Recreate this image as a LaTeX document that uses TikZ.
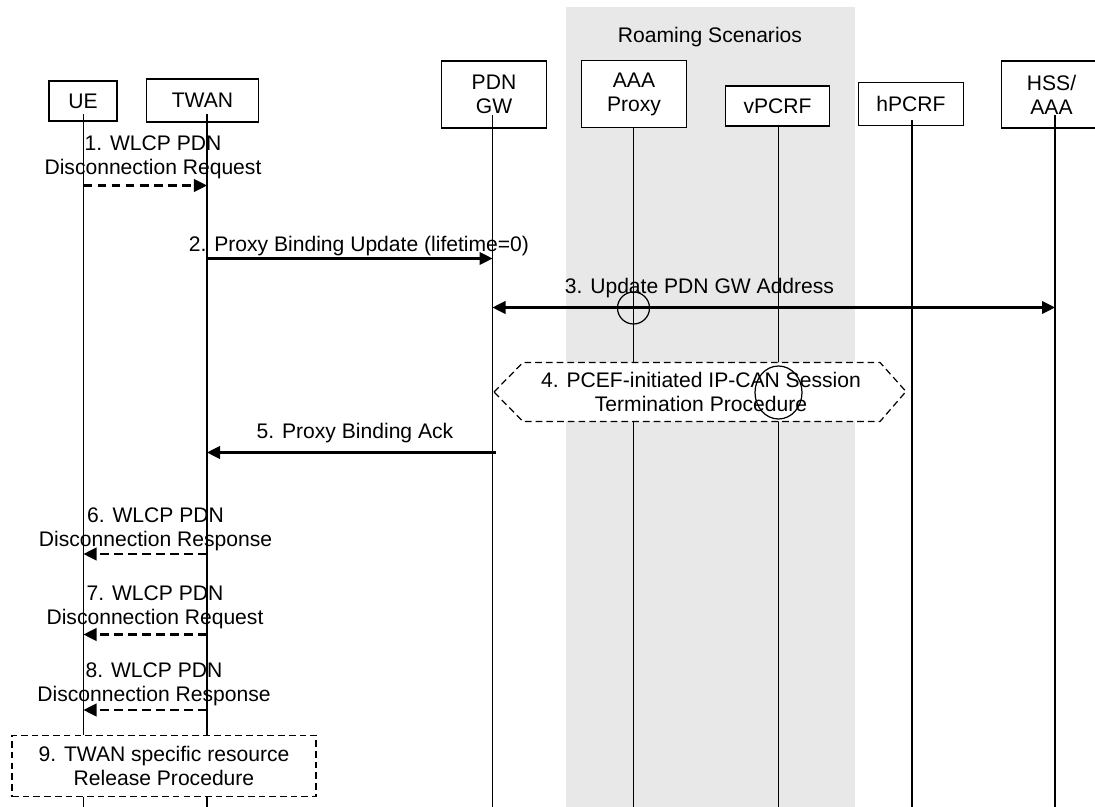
\documentclass[tikz,border=0pt]{standalone}
\usepackage{fontspec}
\setmainfont{Liberation Sans}
\usetikzlibrary{arrows.meta}
\definecolor{roam-gray}{HTML}{E8E8E8}

\begin{document}
\begin{tikzpicture}[every node/.style={font=\fontsize{12}{13.66}\selectfont, align=center},
    entity/.style={draw, fill=white, line width=0.7pt, inner sep=0pt},
    life/.style={line width=0.7pt},
    msg/.style={line width=1.2pt, -{Triangle[length=7.4pt,width=7.2pt]}},
    wlcp/.style={msg, dash pattern=on 5pt off 3pt},
    proc/.style={draw, fill=white, line width=0.7pt, dash pattern=on 3.8pt off 2.3pt}]
  \useasboundingbox (0,0) rectangle (21.9,-16.14);
  \clip (0,0) rectangle (21.9,-16.14);
  \fill[roam-gray] (11.32,-0.15) rectangle (17.1,-16.14);
  \node (roam) at (14.2,-0.74) {Roaming Scenarios};

  \node[entity, minimum width=1.36cm, minimum height=0.80cm] (ue) at (1.66,-2.02) {UE};
  \node[entity, minimum width=2.24cm, minimum height=0.86cm] (twan) at (4.05,-2.01) {TWAN};
  \node[entity, minimum width=2.10cm, minimum height=1.34cm] (pdngw) at (9.88,-1.89) {PDN\\GW};
  \node[entity, minimum width=2.10cm, minimum height=1.33cm] (aaa) at (12.68,-1.88) {AAA\\Proxy};
  \node[entity, minimum width=2.09cm, minimum height=0.80cm] (vpcrf) at (15.55,-2.12) {vPCRF};
  \node[entity, minimum width=2.10cm, minimum height=0.87cm] (hpcrf) at (18.22,-2.08) {hPCRF};
  \node[entity, minimum width=2.00cm, minimum height=1.34cm] (hss) at (21.03,-1.89) {HSS/\\AAA};

  \foreach \n/\x/\y in {ue/1.67/-2.28, twan/4.14/-2.28, pdngw/9.85/-2.30, aaa/12.67/-2.55,
      vpcrf/15.57/-2.52, hpcrf/18.24/-2.40, hss/21.10/-2.30}
  {
    \coordinate (\n-top) at (\x,\y);
    \coordinate (\n-bot) at (\x,-16.14);
    \draw[life] (\n-top) -- (\n-bot);
  }

  \node (m1) at (3.06,-3.14) {1. WLCP PDN\\Disconnection Request};
  \draw[wlcp] (ue-top |- 0,-3.71) -- (twan-top |- 0,-3.71);

  \node (m2) at (7.18,-4.93) {2. Proxy Binding Update (lifetime=0)};
  \draw[msg] (twan-top |- 0,-5.17) -- (pdngw-top |- 0,-5.17);

  \node (m3) at (13.99,-5.76) {3. Update PDN GW Address};
  \draw[msg, {Triangle[length=7.4pt,width=7.2pt]}-{Triangle[length=7.4pt,width=7.2pt]}]
    (pdngw-top |- 0,-6.15) -- (hss-top |- 0,-6.15);
  \draw[life] (aaa-top |- 0,-6.16) circle (0.32);

  \draw[proc] (9.88,-7.84) -- (10.46,-7.25) -- (17.60,-7.25) -- (18.12,-7.83)
    -- (17.60,-8.43) -- (10.46,-8.43) -- cycle;
  \node (m4) at (14.02,-7.84) {4. PCEF-initiated IP-CAN Session\\Termination Procedure};
  \draw[life] (vpcrf-top |- 0,-7.85) ellipse (0.47 and 0.53);

  \node (m5) at (7.10,-8.66) {5. Proxy Binding Ack};
  \draw[msg, shorten <=-2pt] (pdngw-top |- 0,-9.05) -- (twan-top |- 0,-9.05);

  \node (m6) at (3.11,-10.58) {6. WLCP PDN\\Disconnection Response};
  \draw[wlcp] (twan-top |- 0,-11.08) -- (ue-top |- 0,-11.08);

  \node (m7) at (3.10,-12.15) {7. WLCP PDN\\Disconnection Request};
  \draw[wlcp] (twan-top |- 0,-12.69) -- (ue-top |- 0,-12.69);

  \node (m8) at (3.08,-13.68) {8. WLCP PDN\\Disconnection Response};
  \draw[wlcp] (twan-top |- 0,-14.20) -- (ue-top |- 0,-14.20);

  \node[proc, minimum width=6.08cm, minimum height=1.23cm] (m9) at (3.28,-15.32)
    {9. TWAN specific resource\\Release Procedure};
\end{tikzpicture}
\end{document}
